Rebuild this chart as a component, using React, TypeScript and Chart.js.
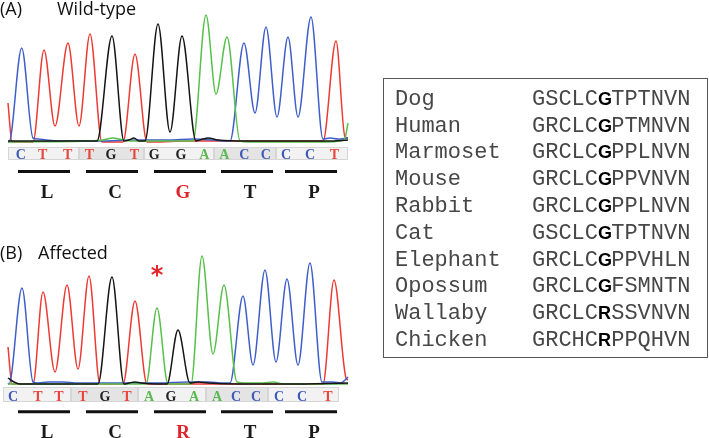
import React, { useEffect, useRef } from "react";
import { Chart, registerables } from "chart.js";
Chart.register(...registerables);

type Pt = [number, number];

// ---------- Panel A (wild-type) trace data: [scan position, signal] ----------
const wtC: Pt[] = [[0,1],[1,1],[13.7,95],[25,5],[30,4],[38,3],[50,2],[90,2],[130,3],[160,3],[185,4],[205,3],[218,2],[222,2],[236,100],[247,30],[258,116],[269,26],[280,106],[290,26],[303,126],[315,4],[322,5],[330,4],[340,5]];
const wtT: Pt[] = [[0,40],[4,1],[20,1],[25,1],[36,93],[47,17],[60,100],[71,17],[82,109],[94,1],[110,1],[115,1],[127,89],[139,1],[145,1],[180,2],[230,2],[260,2],[300,2],[313,2],[315,2],[328,102],[337,6],[340,5]];
const wtG: Pt[] = [[0,2],[30,2],[80,2],[89,2],[104,107],[116,2],[121,3],[126,5],[131,2],[137,2],[150,119],[162,11],[174,107],[188,2],[195,4],[200,5],[210,3],[240,2],[280,2],[320,2],[340,3]];
const wtA: Pt[] = [[0,1],[80,2],[95,3],[105,5],[115,3],[125,2],[180,2],[185,2],[198,128],[208,49],[219,106],[232,2],[240,1],[280,1],[320,1],[332,2],[337,5],[340,20]];

// ---------- Panel B (affected) trace data ----------
const muC: Pt[] = [[0,2],[1,1],[14,97],[25,3],[30,2],[40,3],[55,3],[70,2],[110,2],[150,2],[180,3],[200,3],[215,2],[222,2],[235,89],[245,20],[257,115],[268,23],[279,106],[290,20],[302,122],[314,3],[325,3],[333,2],[337,5],[340,8]];
const muT: Pt[] = [[0,38],[4,1],[20,1],[25,1],[35,93],[47,13],[59,100],[70,16],[81,109],[92,1],[110,1],[115,1],[127,84],[139,1],[150,1],[200,1],[260,1],[300,1],[313,1],[315,1],[326,105],[338,7],[340,5]];
const muG: Pt[] = [[0,7],[6,3],[12,1],[30,1],[80,1],[90,1],[104,108],[116,1],[121,2],[127,3],[133,2],[150,1],[159,1],[170,55],[182,2],[190,3],[200,2],[230,1],[280,1],[340,2]];
const muA: Pt[] = [[0,1],[100,1],[130,1],[138,1],[149,77],[160,1],[176,1],[183,1],[194,129],[205,31],[216,100],[229,3],[240,2],[255,2],[265,3],[275,1],[340,1]];

// ---------- Base calls ----------
const wtCalls = ["C","T","T","T","G","T","G","G","A","A","C","C","C","C","T"];
const wtCallPos = [12.7,34.7,59.7,81.3,103,126.3,146.3,173,196.3,216.3,236.3,257.7,278,302,326.3];
const muCalls = ["C","T","T","T","G","T","A","G","A","A","C","C","C","C","T"];
const muCallPos = [5,30,51,75,97,119,141,163,186,209,228,248,271,294,320];
const wtStrip = [0, 340];
const muStrip = [-5, 331];

// ---------- Amino acids ----------
const wtAmino = ["L","C","G","T","P"];
const muAmino = ["L","C","R","T","P"];
const aminoPos = [36, 104, 172, 239, 303];
const aminoHighlight = 2;
const mutationPeak = 149;

// ---------- Alignment table ----------
const speciesNames = ["Dog","Human","Marmoset","Mouse","Rabbit","Cat","Elephant","Opossum","Wallaby","Chicken"];
const seqBefore = ["GSCLC","GRCLC","GRCLC","GRCLC","GRCLC","GSCLC","GRCLC","GRCLC","GRCLC","GRCHC"];
const seqKey = ["G","G","G","G","G","G","G","G","R","R"];
const seqAfter = ["TPTNVN","PTMNVN","PPLNVN","PPVNVN","PPLNVN","TPTNVN","PPVHLN","FSMNTN","SSVNVN","PPQHVN"];

const traceColors: Record<string, string> = { C: "#3f5fc8", T: "#ec3b34", G: "#151515", A: "#57c04b" };
const letterColors: Record<string, string> = { C: "#3f5ab8", T: "#e8463c", G: "#222222", A: "#5cb850" };

const SERIF = "'Liberation Serif', 'DejaVu Serif', serif";
const MONO = "'Liberation Mono', 'Courier New', monospace";

interface PanelCfg {
  traces: { base: string; pts: Pt[] }[];
  calls: string[];
  callPos: number[];
  strip: number[];
  amino: string[];
  title: [string, string];
  titleX: [number, number];
  titleBase: number;
  stripTop: number;
  stripH: number;
  letterY: number;
  barY: number;
  aminoY: number;
  mark?: { x: number; y: number };
  padTop: number;
  padBottom: number;
  height: number;
  top: number;
}

function centerText(ctx: CanvasRenderingContext2D, t: string, x: number, cy: number) {
  const m = ctx.measureText(t);
  const asc = m.actualBoundingBoxAscent, desc = m.actualBoundingBoxDescent;
  ctx.fillText(t, x, cy + (asc - desc) / 2);
}

function makeAnnot(cfg: PanelCfg) {
  return {
    id: "chromAnnot",
    afterDatasetsDraw(chart: any) {
      const ctx: CanvasRenderingContext2D = chart.ctx;
      const xs = chart.scales.x;
      const px = (v: number) => xs.getPixelForValue(v);
      ctx.save();
      // base-call strip
      const b: number[] = [cfg.strip[0]];
      for (let g = 1; g < 5; g++) b.push((cfg.callPos[3 * g - 1] + cfg.callPos[3 * g]) / 2);
      b.push(cfg.strip[1]);
      for (let g = 0; g < 5; g++) {
        const x0 = Math.round(px(b[g])), x1 = Math.round(px(b[g + 1]));
        ctx.fillStyle = g % 2 === 1 ? "#e4e4e4" : "#f2f2f2";
        ctx.fillRect(x0, cfg.stripTop, x1 - x0, cfg.stripH);
        ctx.strokeStyle = "#d6d6d6";
        ctx.lineWidth = 1;
        ctx.strokeRect(x0 + 0.5, cfg.stripTop + 0.5, x1 - x0 - 1, cfg.stripH - 1);
      }
      ctx.font = `bold 14px ${SERIF}`;
      ctx.textAlign = "center";
      cfg.calls.forEach((c, i) => {
        ctx.fillStyle = letterColors[c];
        centerText(ctx, c, px(cfg.callPos[i]), cfg.letterY);
      });
      // codon bars + amino acids
      ctx.strokeStyle = "#111";
      ctx.lineWidth = 3;
      ctx.font = `bold 19px ${SERIF}`;
      cfg.amino.forEach((a, i) => {
        const cx = px(aminoPos[i]);
        ctx.beginPath();
        ctx.moveTo(cx - 26, cfg.barY);
        ctx.lineTo(cx + 26, cfg.barY);
        ctx.stroke();
        ctx.fillStyle = i === aminoHighlight ? "#e0242b" : "#1a1a1a";
        centerText(ctx, a, cx + 3, cfg.aminoY);
      });
      // mutation mark
      if (cfg.mark) {
        ctx.fillStyle = "#e3262c";
        ctx.font = "bold 24px 'DejaVu Sans', sans-serif";
        centerText(ctx, "*", px(cfg.mark.x), cfg.mark.y);
      }
      // title
      ctx.fillStyle = "#111";
      ctx.textAlign = "left";
      ctx.font = "18px 'Open Sans', sans-serif";
      ctx.fillText(cfg.title[0], cfg.titleX[0], cfg.titleBase);
      ctx.fillText(cfg.title[1], cfg.titleX[1], cfg.titleBase);
      ctx.restore();
    },
  };
}

function Panel({ cfg }: { cfg: PanelCfg }) {
  const ref = useRef<HTMLCanvasElement>(null);
  useEffect(() => {
    if (!ref.current) return;
    const chart = new Chart(ref.current, {
      type: "line",
      data: {
        datasets: cfg.traces.map((t) => ({
          data: t.pts.map(([x, y]) => ({ x, y })),
          borderColor: traceColors[t.base],
          borderWidth: 1.5,
          pointRadius: 0,
          fill: false,
          cubicInterpolationMode: "monotone" as const,
          clip: false as any,
        })),
      },
      options: {
        responsive: false,
        animation: false,
        events: [],
        layout: { padding: { left: 8, right: 12, top: cfg.padTop, bottom: cfg.padBottom } },
        plugins: { legend: { display: false }, tooltip: { enabled: false } },
        scales: {
          x: { type: "linear", min: 0, max: 340, display: false },
          y: { type: "linear", min: 0, max: 135, display: false },
        },
      },
      plugins: [makeAnnot(cfg)],
    });
    return () => chart.destroy();
  }, [cfg]);
  return (
    <canvas
      ref={ref}
      width={360}
      height={cfg.height}
      style={{ position: "absolute", left: 0, top: cfg.top, width: 360, height: cfg.height }}
    />
  );
}

const panelA: PanelCfg = {
  traces: [
    { base: "G", pts: wtG },
    { base: "A", pts: wtA },
    { base: "C", pts: wtC },
    { base: "T", pts: wtT },
  ],
  calls: wtCalls,
  callPos: wtCallPos,
  strip: wtStrip,
  amino: wtAmino,
  title: ["(A)", "Wild-type"],
  titleX: [0, 57],
  titleBase: 15,
  stripTop: 147,
  stripH: 13,
  letterY: 154,
  barY: 171.5,
  aminoY: 191,
  padTop: 8,
  padBottom: 77,
  height: 220,
  top: 0,
};

const panelB: PanelCfg = {
  traces: [
    { base: "G", pts: muG },
    { base: "A", pts: muA },
    { base: "C", pts: muC },
    { base: "T", pts: muT },
  ],
  calls: muCalls,
  callPos: muCallPos,
  strip: muStrip,
  amino: muAmino,
  title: ["(B)", "Affected"],
  titleX: [0, 38],
  titleBase: 39,
  stripTop: 167,
  stripH: 15,
  letterY: 175.5,
  barY: 191.7,
  aminoY: 211,
  mark: { x: mutationPeak, y: 50.5 },
  padTop: 30,
  padBottom: 53,
  height: 218,
  top: 220,
};

export default function App() {
  return (
    <div style={{ position: "fixed", left: 0, top: 0, width: 709, height: 438, background: "#fff", overflow: "hidden" }}>
      <Panel cfg={panelA} />
      <Panel cfg={panelB} />
      <div
        style={{
          position: "absolute",
          left: 383,
          top: 78,
          width: 325,
          height: 280,
          boxSizing: "border-box",
          border: "1.5px solid #555",
        }}
      />
      {speciesNames.map((name, i) => (
        <div
          key={name}
          style={{
            position: "absolute",
            top: 86.7 + i * 26.8,
            left: 0,
            width: 709,
            height: 26.8,
            fontFamily: MONO,
            fontSize: 22,
            lineHeight: "26.8px",
            color: "#474747",
            whiteSpace: "pre",
          }}
        >
          <span style={{ position: "absolute", left: 395 }}>{name}</span>
          <span style={{ position: "absolute", left: 532 }}>
            {seqBefore[i]}
            <span
              style={{
                display: "inline-block",
                width: 13.2,
                textAlign: "center",
                fontFamily: "'Liberation Sans', Arial, sans-serif",
                fontWeight: "bold",
                fontSize: 18,
                lineHeight: 1,
                color: "#000",
              }}
            >
              {seqKey[i]}
            </span>
            {seqAfter[i]}
          </span>
        </div>
      ))}
    </div>
  );
}
